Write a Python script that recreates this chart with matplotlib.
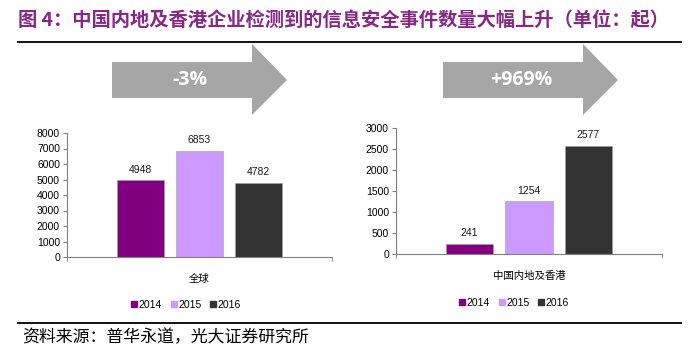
import matplotlib
matplotlib.use("Agg")
import matplotlib.pyplot as plt
from matplotlib.patches import Polygon
from matplotlib.lines import Line2D

plt.rcParams['font.family'] = ['Liberation Sans', 'Noto Sans CJK SC', 'DejaVu Sans']

# 数据
years = ['2014', '2015', '2016']
colors = ['#800080', '#CC99FF', '#333333']
global_vals = [4948, 6853, 4782]
china_vals = [241, 1254, 2577]
global_label = '全球'
china_label = '中国内地及香港'
global_change = '-3%'
china_change = '+969%'
global_ticks = list(range(0, 8001, 1000))
china_ticks = list(range(0, 3001, 500))

title = '图 4：中国内地及香港企业检测到的信息安全事件数量大幅上升（单位：起）'
source = '资料来源：普华永道，光大证券研究所'

W, H = 694, 357
fig = plt.figure(figsize=(W / 100, H / 100), dpi=100)

# 背景层（像素坐标）
bg = fig.add_axes([0, 0, 1, 1])
bg.set_xlim(0, W)
bg.set_ylim(H, 0)
bg.axis('off')

bg.text(18, 20, title, color='#862886', fontsize=13.9, fontweight='bold',
        family=['Noto Sans CJK SC', 'DejaVu Sans'], va='center', ha='left')
bg.plot([18, 681], [42, 42], color='black', lw=1.3)
bg.plot([18, 681], [323, 323], color='black', lw=1.3)
bg.text(22, 337, source, fontsize=12.2, family=['Noto Sans CJK SC', 'DejaVu Sans'],
        va='center', ha='left', color='black')


def arrow(x0, label):
    pts = [(x0, 62), (x0 + 140, 62), (x0 + 140, 44), (x0 + 175, 80),
           (x0 + 140, 115), (x0 + 140, 98), (x0, 98)]
    bg.add_patch(Polygon(pts, closed=True, facecolor='#A6A6A6', edgecolor='none'))
    bg.text(x0 + 78, 80, label, color='white', fontsize=14, fontweight='bold',
            family=['Open Sans', 'DejaVu Sans'], ha='center', va='center')


arrow(112, global_change)
arrow(443, china_change)


def bar_panel(rect, vals, ticks, cat, legend_xy):
    ax = fig.add_axes(rect)
    w = 0.177
    step = 0.223
    for i, (v, c) in enumerate(zip(vals, colors)):
        x = (i - 1) * step
        ax.bar(x, v, width=w, color=c, edgecolor='#A0A0A0', linewidth=0.4)
        ax.annotate(str(v), (x, v), xytext=(0, 4), textcoords='offset points',
                    ha='center', va='bottom', fontsize=7.5, color='#1a1a1a')
    ax.set_xlim(-0.5, 0.5)
    ax.set_ylim(0, ticks[-1])
    ax.set_yticks(ticks)
    ax.set_xticks([0])
    ax.set_xticklabels([cat])
    ax.set_xticks([-0.5, 0.5], minor=True)
    ax.tick_params(axis='x', which='major', length=0, pad=12, labelsize=7.5)
    ax.tick_params(axis='x', which='minor', length=3, color='#808080', direction='out')
    ax.tick_params(axis='y', length=3, color='#808080', labelsize=7.5, pad=2)
    for s in ['top', 'right']:
        ax.spines[s].set_visible(False)
    for s in ['left', 'bottom']:
        ax.spines[s].set_color('#808080')
        ax.spines[s].set_linewidth(0.8)
    handles = [Line2D([], [], marker='s', linestyle='none', markersize=5,
                      markerfacecolor=c, markeredgecolor=c) for c in colors]
    fig.legend(handles, years, loc='center',
               bbox_to_anchor=(legend_xy[0] / W, 1 - legend_xy[1] / H),
               ncol=3, frameon=False, fontsize=7.5, handlelength=0.6,
               handletextpad=0.15, columnspacing=0.8)
    return ax


bar_panel([67 / W, 100 / H, 265 / W, 124 / H], global_vals, global_ticks,
          global_label, (186, 305))
bar_panel([396 / W, 103 / H, 266 / W, 126 / H], china_vals, china_ticks,
          china_label, (514, 303))

fig.savefig('out.png', dpi=100)
